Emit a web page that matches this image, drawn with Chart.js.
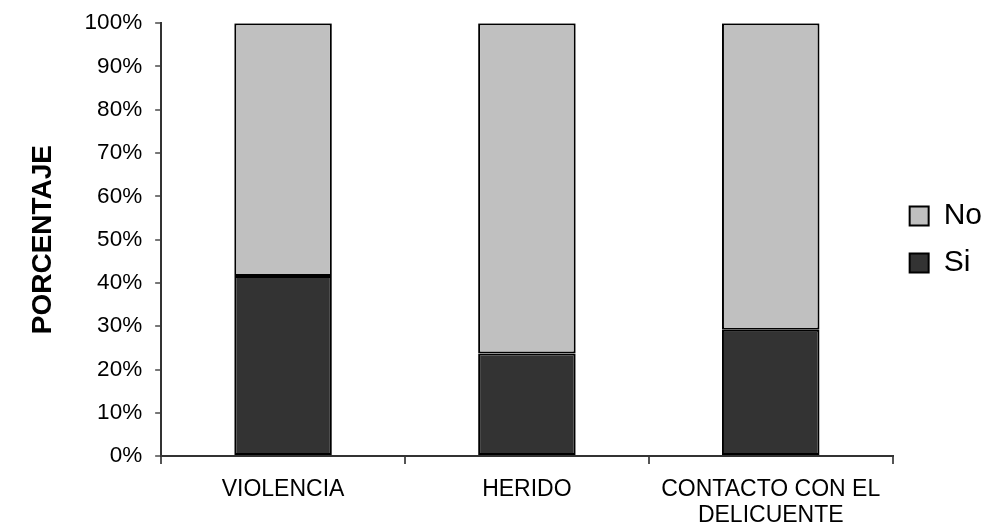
<!DOCTYPE html>
<html>
<head>
<meta charset="utf-8">
<script src="https://cdn.jsdelivr.net/npm/chart.js@4/dist/chart.umd.min.js"></script>
<style>
  html, body { margin: 0; padding: 0; background: #fff; }
  canvas { display: block; }
</style>
</head>
<body>
<canvas id="myChart" width="992" height="530"></canvas>
<script>
let categories = ["VIOLENCIA", "HERIDO", ["CONTACTO CON EL", "DELICUENTE"]];
let siValues = [41.6, 23.7, 29.2];
let noValues = [58.4, 76.3, 70.8];

let fontFamily = "'Liberation Sans', Arial, sans-serif";

let ctx = document.getElementById("myChart").getContext("2d");
let chart = new Chart(ctx, {
  type: "bar",
  data: {
    labels: categories,
    datasets: [
      {
        label: "Si",
        data: siValues,
        backgroundColor: "#333333",
        borderColor: "#000000",
        borderWidth: 2,
        borderSkipped: false,
        barPercentage: 0.4,
        categoryPercentage: 1,
      },
      {
        label: "No",
        data: noValues,
        backgroundColor: "#c0c0c0",
        borderColor: "#000000",
        borderWidth: 2,
        borderSkipped: false,
        barPercentage: 0.4,
        categoryPercentage: 1,
      },
    ],
  },
  options: {
    responsive: false,
    animation: false,
    devicePixelRatio: 1,
    layout: {
      // bottom is negative because chart.js reserves tick padding twice
      padding: { top: 21, left: 26, right: 0, bottom: -11 },
    },
    plugins: {
      tooltip: { enabled: false },
      legend: {
        position: "right",
        fullSize: false,
        reverse: true,
        labels: {
          boxWidth: 19,
          boxHeight: 19,
          padding: 17,
          color: "#000",
          font: { family: fontFamily, size: 30 },
        },
      },
    },
    scales: {
      x: {
        stacked: true,
        grid: {
          display: true,
          drawOnChartArea: false,
          drawTicks: true,
          tickLength: 8,
          color: "#555",
          lineWidth: 2,
        },
        border: { display: true, color: "#333", width: 2 },
        ticks: {
          color: "#000",
          padding: 12,
          maxRotation: 0,
          autoSkip: false,
          font: { family: fontFamily, size: 23, lineHeight: 1.15 },
        },
      },
      y: {
        stacked: true,
        min: 0,
        max: 100,
        grid: {
          display: true,
          drawOnChartArea: false,
          drawTicks: true,
          tickLength: 6,
          color: "#777",
          lineWidth: 2,
        },
        border: { display: true, color: "#333", width: 2 },
        ticks: {
          stepSize: 10,
          color: "#000",
          padding: 13,
          // small lineHeight so the top label doesn't push the chart area down
          font: { family: fontFamily, size: 22.5, lineHeight: 0.9 },
          callback: function (value) {
            return value + "%";
          },
        },
        title: {
          display: true,
          text: "PORCENTAJE",
          color: "#000",
          padding: { top: 0, bottom: 12 },
          font: { family: fontFamily, size: 28, weight: "bold" },
        },
      },
    },
  },
});
</script>
</body>
</html>
